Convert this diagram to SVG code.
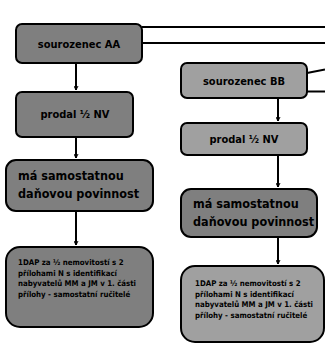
<svg xmlns="http://www.w3.org/2000/svg" width="325" height="344" viewBox="0 0 325 344">
  <defs>
    <marker id="head" viewBox="0 0 10 10" refX="9" refY="5" markerWidth="5" markerHeight="5" orient="auto" markerUnits="userSpaceOnUse">
      <path d="M1,1 L9,5 L1,9" fill="none" stroke="#000" stroke-width="2"/>
    </marker>
    <style>
      .dark { fill: #7f7f7f; stroke: #000; stroke-width: 2; }
      .light { fill: #a0a0a0; stroke: #000; stroke-width: 2; }
      .t { font-family: "Liberation Sans Narrow", "DejaVu Sans Condensed", "Liberation Sans", sans-serif; font-weight: bold; fill: #000; }
      .c { text-anchor: middle; font-size: 11px; }
      .m { font-size: 12.5px; }
      .s { font-size: 7.8px; }
      .ln { stroke: #000; stroke-width: 2; fill: none; }
      .arr { stroke: #000; stroke-width: 2; fill: none; marker-end: url(#head); }
    </style>
  </defs>
  <rect width="325" height="344" fill="#fff"/>

  <g id="connectors">
    <line class="ln" x1="142" y1="27" x2="325" y2="27"/>
    <line class="ln" x1="142" y1="43" x2="325" y2="43"/>
    <line class="ln" x1="307" y1="73" x2="325" y2="69.5"/>
    <line class="ln" x1="307" y1="91.5" x2="325" y2="91.5"/>
    <line class="arr" x1="76" y1="63" x2="76" y2="90"/>
    <line class="arr" x1="76" y1="137" x2="76" y2="158"/>
    <line class="arr" x1="76" y1="211" x2="76" y2="245"/>
    <line class="arr" x1="278" y1="98" x2="278" y2="121"/>
    <line class="arr" x1="278" y1="155" x2="278" y2="187"/>
    <line class="arr" x1="278" y1="237" x2="278" y2="264"/>
  </g>

  <g id="aa">
    <rect class="dark" x="16" y="24" width="126" height="39" rx="6"/>
    <text class="t c" x="79" y="47.5">sourozenec AA</text>
  </g>
  <g id="aa-sold">
    <rect class="dark" x="16" y="92" width="117" height="45" rx="6"/>
    <text class="t c" x="75" y="117.5">prodal ½ NV</text>
  </g>
  <g id="aa-duty">
    <rect class="dark" x="6" y="160" width="147" height="51" rx="10"/>
    <text class="t m" x="18" y="180">má samostatnou</text>
    <text class="t m" x="18" y="198">daňovou povinnost</text>
  </g>
  <g id="aa-filing">
    <rect class="dark" x="6" y="247" width="147" height="80" rx="14"/>
    <text class="t s" x="18" y="265">1DAP  za ½ nemovitostí s 2</text>
    <text class="t s" x="18" y="275.5">přílohami N s identifikací</text>
    <text class="t s" x="18" y="286">nabyvatelů MM a JM  v 1. části</text>
    <text class="t s" x="18" y="296.5">přílohy - samostatní ručitelé</text>
  </g>

  <g id="bb">
    <rect class="light" x="181" y="63" width="126" height="35" rx="6"/>
    <text class="t c" x="244" y="84.5">sourozenec BB</text>
  </g>
  <g id="bb-sold">
    <rect class="light" x="181" y="123" width="126" height="32" rx="6"/>
    <text class="t c" x="244" y="142.5">prodal ½ NV</text>
  </g>
  <g id="bb-duty">
    <rect class="dark" x="181" y="189" width="136" height="48" rx="10"/>
    <text class="t m" x="193" y="208">má samostatnou</text>
    <text class="t m" x="193" y="226">daňovou povinnost</text>
  </g>
  <g id="bb-filing">
    <rect class="light" x="181" y="266" width="143" height="76" rx="14"/>
    <text class="t s" x="195" y="286">1DAP  za ½ nemovitostí s 2</text>
    <text class="t s" x="195" y="296.5">přílohami N s identifikací</text>
    <text class="t s" x="195" y="307">nabyvatelů MM a JM  v 1. části</text>
    <text class="t s" x="195" y="317.5">přílohy -  samostatní ručitelé</text>
  </g>
</svg>
